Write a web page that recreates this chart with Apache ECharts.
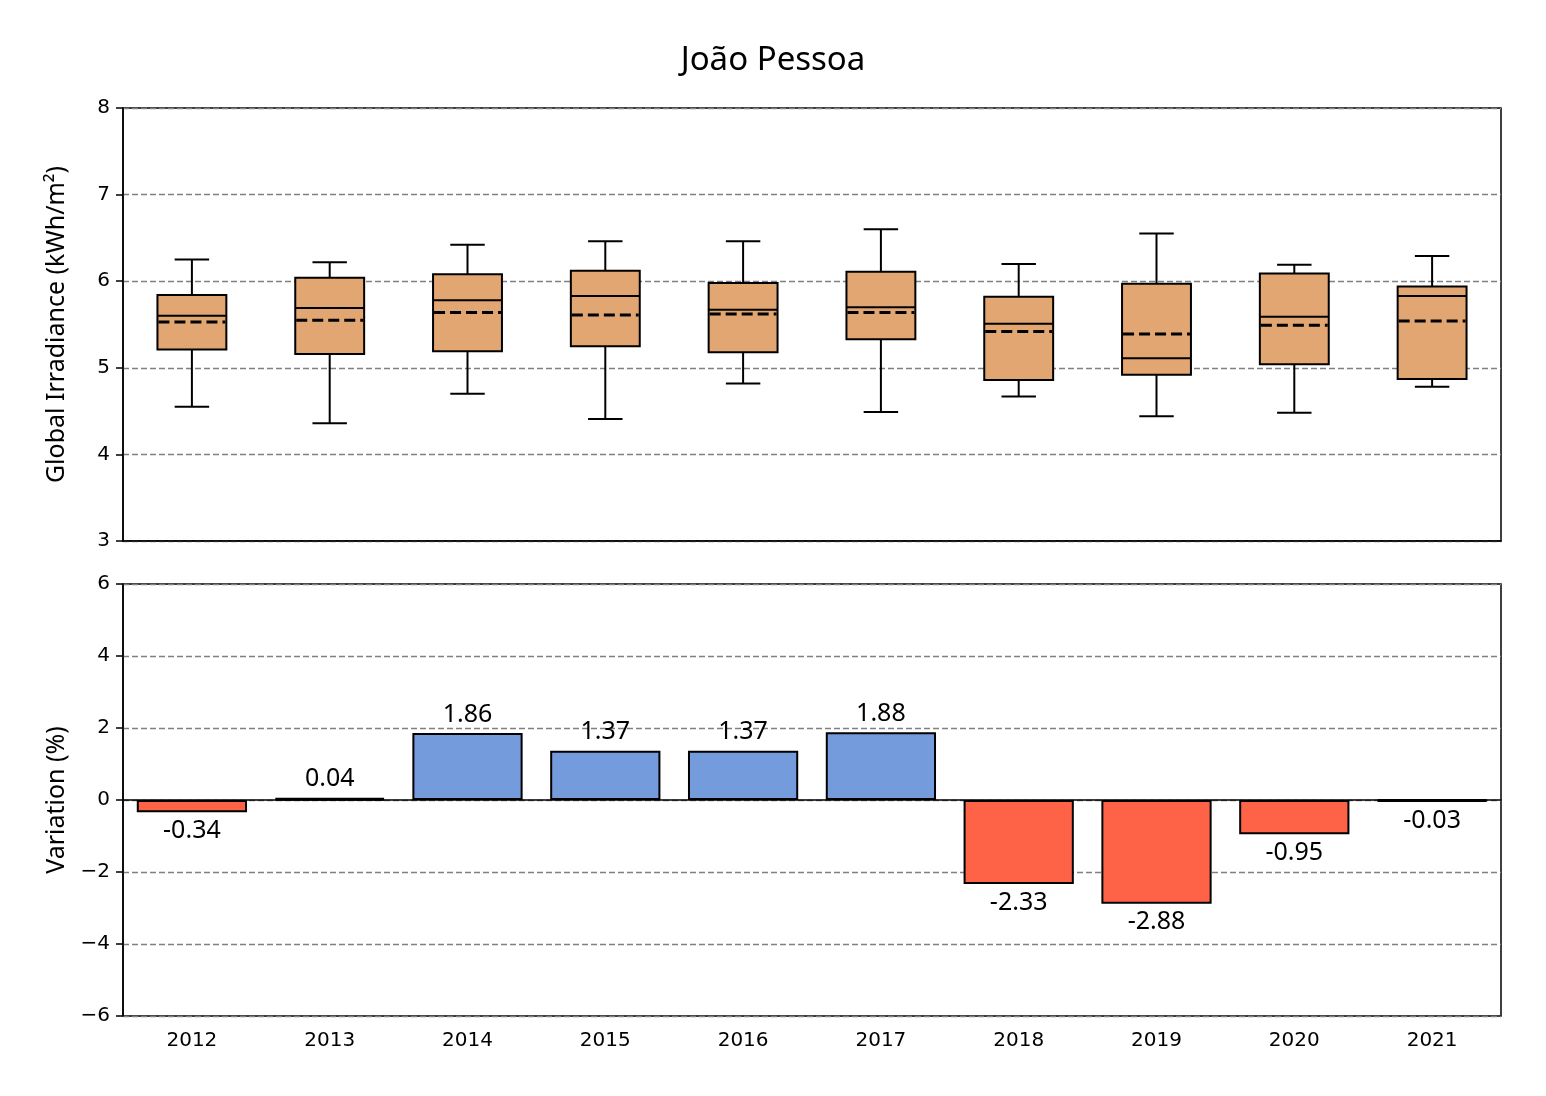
<!DOCTYPE html>
<html>
<head>
<meta charset="utf-8">
<script src="https://cdn.jsdelivr.net/npm/echarts@6/dist/echarts.min.js"></script>
<style>html,body{margin:0;padding:0;background:#fff}#c{width:1546px;height:1096px}</style>
</head>
<body>
<div id="c"></div>
<script>
var years = ['2012','2013','2014','2015','2016','2017','2018','2019','2020','2021'];
var whiskerLow = [4.55, 4.36, 4.70, 4.41, 4.82, 4.49, 4.67, 4.44, 4.48, 4.78];
var q1 =         [5.21, 5.16, 5.19, 5.25, 5.18, 5.33, 4.86, 4.92, 5.04, 4.87];
var median =     [5.60, 5.69, 5.78, 5.83, 5.67, 5.70, 5.51, 5.11, 5.59, 5.83];
var q3 =         [5.84, 6.04, 6.08, 6.12, 5.98, 6.11, 5.82, 5.97, 6.09, 5.94];
var whiskerHigh =[6.25, 6.22, 6.42, 6.46, 6.46, 6.60, 6.20, 6.55, 6.19, 6.29];
var mean =       [5.53, 5.55, 5.64, 5.61, 5.62, 5.64, 5.42, 5.39, 5.49, 5.54];
var variation =  [-0.34, 0.04, 1.86, 1.37, 1.37, 1.88, -2.33, -2.88, -0.95, -0.03];
var topTicks = [3, 4, 5, 6, 7, 8];
var bottomTicks = [-6, -4, -2, 0, 2, 4, 6];

var boxColor = '#e2a672';
var posColor = '#749bdb';
var negColor = '#ff6347';
var tickFont = 'DejaVu Sans';
var textFont = 'Noto Sans';

var boxData = years.map(function (y, i) {
  return [i, whiskerLow[i], q1[i], median[i], q3[i], whiskerHigh[i], mean[i]];
});

function renderBox(params, api) {
  var i = api.value(0);
  var cw = api.size([1, 0])[0];
  var bw = cw * 0.5, capw = cw * 0.25;
  var pLo = api.coord([i, api.value(1)]);
  var pQ1 = api.coord([i, api.value(2)]);
  var pMed = api.coord([i, api.value(3)]);
  var pQ3 = api.coord([i, api.value(4)]);
  var pHi = api.coord([i, api.value(5)]);
  var pMean = api.coord([i, api.value(6)]);
  var cx = pLo[0];
  var ls = { stroke: '#000', lineWidth: 2 };
  return {
    type: 'group',
    children: [
      { type: 'line', shape: { x1: cx, y1: pLo[1], x2: cx, y2: pQ1[1] }, style: ls },
      { type: 'line', shape: { x1: cx, y1: pQ3[1], x2: cx, y2: pHi[1] }, style: ls },
      { type: 'line', shape: { x1: cx - capw / 2, y1: pLo[1], x2: cx + capw / 2, y2: pLo[1] }, style: ls },
      { type: 'line', shape: { x1: cx - capw / 2, y1: pHi[1], x2: cx + capw / 2, y2: pHi[1] }, style: ls },
      { type: 'rect', shape: { x: cx - bw / 2, y: pQ3[1], width: bw, height: pQ1[1] - pQ3[1] },
        style: { fill: boxColor, stroke: '#000', lineWidth: 2 } },
      { type: 'line', shape: { x1: cx - bw / 2, y1: pMed[1], x2: cx + bw / 2, y2: pMed[1] }, style: ls },
      { type: 'line', shape: { x1: cx - bw / 2 + 1, y1: pMean[1], x2: cx + bw / 2 - 1, y2: pMean[1] },
        style: { stroke: '#000', lineWidth: 3, lineDash: [11, 5] } }
    ]
  };
}

var barData = variation.map(function (v) {
  return {
    value: v,
    itemStyle: { color: v >= 0 ? posColor : negColor, borderColor: '#000', borderWidth: Math.abs(v) < 0.1 ? 3 : 2 },
    label: { position: v >= 0 ? 'top' : 'bottom' }
  };
});

function minusFmt(v) { return String(v).replace('-', '\u2212'); }

var gridLine = { show: true, lineStyle: { color: '#808080', type: [6, 3], width: 1.3 } };

var chart = echarts.init(document.getElementById('c'), null, { renderer: 'canvas' });
chart.setOption({
  animation: false,
  backgroundColor: '#fff',
  title: {
    text: 'João Pessoa', left: 'center', top: 39,
    textStyle: { fontFamily: textFont, fontSize: 33, fontWeight: 'normal', color: '#000' }
  },
  grid: [
    { left: 123, top: 108, width: 1378, height: 433, show: true, borderColor: '#000', borderWidth: 1.5, backgroundColor: 'transparent' },
    { left: 123, top: 584, width: 1378, height: 432, show: true, borderColor: '#000', borderWidth: 1.5, backgroundColor: 'transparent' }
  ],
  xAxis: [
    { type: 'category', gridIndex: 0, data: years,
      axisLine: { lineStyle: { color: '#000', width: 1.5 } },
      axisTick: { alignWithLabel: true, length: 7, lineStyle: { color: '#000', width: 1.5 } },
      axisLabel: { show: false }, splitLine: { show: false } },
    { type: 'category', gridIndex: 1, data: years,
      axisLine: { lineStyle: { color: '#000', width: 1.5 } },
      axisTick: { alignWithLabel: true, length: 7, lineStyle: { color: '#000', width: 1.5 } },
      axisLabel: { margin: 15, fontFamily: tickFont, fontSize: 20, color: '#000' }, splitLine: { show: false } }
  ],
  yAxis: [
    { type: 'value', gridIndex: 0, min: topTicks[0], max: topTicks[topTicks.length - 1], interval: 1,
      name: 'Global Irradiance (kWh/m²)', nameLocation: 'middle', nameGap: 54,
      nameTextStyle: { fontFamily: textFont, fontSize: 25, color: '#000' },
      axisLine: { show: true, lineStyle: { color: '#000', width: 1.5 } },
      axisTick: { show: true, length: 7, lineStyle: { color: '#000', width: 1.5 } },
      axisLabel: { margin: 13, fontFamily: tickFont, fontSize: 20, color: '#000', formatter: minusFmt },
      splitLine: gridLine },
    { type: 'value', gridIndex: 1, min: bottomTicks[0], max: bottomTicks[bottomTicks.length - 1], interval: 2,
      name: 'Variation (%)', nameLocation: 'middle', nameGap: 54,
      nameTextStyle: { fontFamily: textFont, fontSize: 25, color: '#000' },
      axisLine: { show: true, onZero: false, lineStyle: { color: '#000', width: 1.5 } },
      axisTick: { show: true, length: 7, lineStyle: { color: '#000', width: 1.5 } },
      axisLabel: { margin: 13, fontFamily: tickFont, fontSize: 20, color: '#000', formatter: minusFmt },
      splitLine: gridLine }
  ],
  series: [
    { type: 'custom', xAxisIndex: 0, yAxisIndex: 0, data: boxData,
      encode: { x: 0, y: [1, 2, 3, 4, 5, 6] }, renderItem: renderBox, z: 5 },
    { type: 'bar', xAxisIndex: 1, yAxisIndex: 1, data: barData, barWidth: '80%', z: 5,
      label: { show: true, distance: 6, fontFamily: textFont, fontSize: 25, color: '#000',
        formatter: function (p) { return p.value.toFixed(2); } } }
  ]
});
</script>
</body>
</html>
